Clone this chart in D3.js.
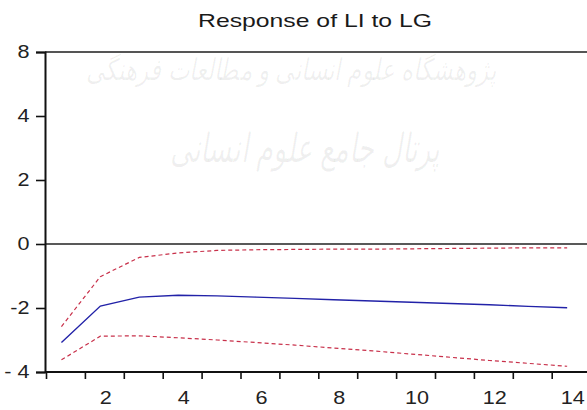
<!DOCTYPE html>
<html>
<head>
<meta charset="utf-8">
<script src="https://cdn.jsdelivr.net/npm/d3@7"></script>
<style>
  html, body { margin: 0; padding: 0; background: #ffffff; }
  svg { display: block; }
  text { font-family: "Liberation Sans", Arial, sans-serif; }
</style>
</head>
<body>
<script>
// ---- data ----
const periods = [1, 2, 3, 4, 5, 6, 7, 8, 9, 10, 11, 12, 13, 14];
const response = [-3.08, -1.94, -1.66, -1.60, -1.62, -1.66, -1.70, -1.74, -1.78, -1.82, -1.86, -1.90, -1.95, -1.99];
const upperBand = [-2.58, -1.02, -0.42, -0.28, -0.20, -0.18, -0.17, -0.16, -0.16, -0.15, -0.14, -0.13, -0.12, -0.12];
const lowerBand = [-3.62, -2.88, -2.87, -2.93, -3.00, -3.08, -3.16, -3.25, -3.34, -3.44, -3.54, -3.64, -3.73, -3.82];
const xTickValues = [2, 4, 6, 8, 10, 12, 14];
const xTickLabels = ["2", "4", "6", "8", "10", "12", "14"];
const yTickValues = [-4, -2, 0, 2, 4, 6];
const yTickLabels = ["- 4", "-2", "0", "2", "4", "8"];
const title = "Response of LI to LG";
const watermark1 = "پژوهشگاه علوم انسانی و مطالعات فرهنگی";
const watermark2 = "پرتال جامع علوم انسانی";

// ---- layout ----
const W = 587, H = 410;
const mLeft = 45, mTop = 52, mBottom = 372;
const step = 38.9;

const svg = d3.select("body").append("svg").attr("width", W).attr("height", H);

const x = d3.scaleLinear().domain([0.5, 14.5]).range([mLeft, mLeft + 14 * step]);
const y = d3.scaleLinear().domain([-4, 6]).range([mBottom, mTop]);

// watermark (faint)
svg.append("text").attr("x", 291).attr("y", 80).attr("text-anchor", "middle")
  .attr("font-family", "DejaVu Sans").attr("font-size", 30).attr("font-style", "italic")
  .attr("fill", "#000").attr("fill-opacity", 0.06)
  .attr("textLength", 410).attr("lengthAdjust", "spacingAndGlyphs")
  .text(watermark1);
svg.append("text").attr("x", 305).attr("y", 162).attr("text-anchor", "middle")
  .attr("font-family", "DejaVu Sans").attr("font-size", 40).attr("font-style", "italic")
  .attr("fill", "#000").attr("fill-opacity", 0.06)
  .attr("textLength", 270).attr("lengthAdjust", "spacingAndGlyphs")
  .text(watermark2);

// title
svg.append("text").attr("x", 315).attr("y", 27).attr("text-anchor", "middle")
  .attr("font-size", 19).attr("fill", "#1a1a1a")
  .attr("textLength", 234).attr("lengthAdjust", "spacingAndGlyphs")
  .text(title);

// top frame line
svg.append("line").attr("x1", mLeft).attr("x2", W).attr("y1", mTop).attr("y2", mTop)
  .attr("stroke", "#555").attr("stroke-width", 2);

// zero line
svg.append("line").attr("x1", mLeft).attr("x2", W).attr("y1", y(0)).attr("y2", y(0))
  .attr("stroke", "#222").attr("stroke-width", 1.6);

// y axis
const gy = svg.append("g").attr("transform", `translate(${mLeft},0)`)
  .call(d3.axisLeft(y).tickValues(yTickValues).tickSize(9).tickPadding(4)
    .tickFormat((d, i) => yTickLabels[i]));
gy.select(".domain").attr("stroke", "#111").attr("stroke-width", 2);
gy.selectAll(".tick line").attr("stroke", "#111").attr("stroke-width", 1.6);
gy.selectAll(".tick text").attr("font-size", 18).attr("fill", "#222")
  .attr("font-family", "Liberation Sans, Arial, sans-serif")
  .attr("x", -13).attr("transform", "scale(1.2,1)");

// x axis: boundary ticks
const xBounds = periods.map(p => p - 0.5).concat([14.5]);
const gx = svg.append("g").attr("transform", `translate(1,${mBottom})`)
  .call(d3.axisBottom(x).tickValues(xBounds).tickSize(7).tickSizeOuter(0).tickFormat(""));
gx.select(".domain").attr("stroke", "#111").attr("stroke-width", 2)
  .attr("d", `M${mLeft - 1},0H${W}`);
gx.selectAll(".tick line").attr("stroke", "#111").attr("stroke-width", 1.6);

// x axis: labels at period centres
const gxl = svg.append("g").attr("transform", `translate(2,${mBottom})`)
  .call(d3.axisBottom(x).tickValues(xTickValues).tickSize(0).tickPadding(19)
    .tickFormat((d, i) => xTickLabels[i]));
gxl.select(".domain").remove();
gxl.selectAll(".tick text").attr("font-size", 18).attr("fill", "#222")
  .attr("font-family", "Liberation Sans, Arial, sans-serif")
  .attr("transform", "scale(1.2,1)");

// data lines
const plot = svg.append("g").attr("transform", "translate(-3,0)");
const line = d3.line().x((d, i) => x(periods[i])).y(d => y(d));

plot.append("path").datum(upperBand).attr("d", line)
  .attr("fill", "none").attr("stroke", "#c8304a").attr("stroke-width", 1.2)
  .attr("stroke-dasharray", "4,3");
plot.append("path").datum(lowerBand).attr("d", line)
  .attr("fill", "none").attr("stroke", "#c8304a").attr("stroke-width", 1.2)
  .attr("stroke-dasharray", "4,3");
plot.append("path").datum(response).attr("d", line)
  .attr("fill", "none").attr("stroke", "#2222a8").attr("stroke-width", 1.4);
</script>
</body>
</html>
